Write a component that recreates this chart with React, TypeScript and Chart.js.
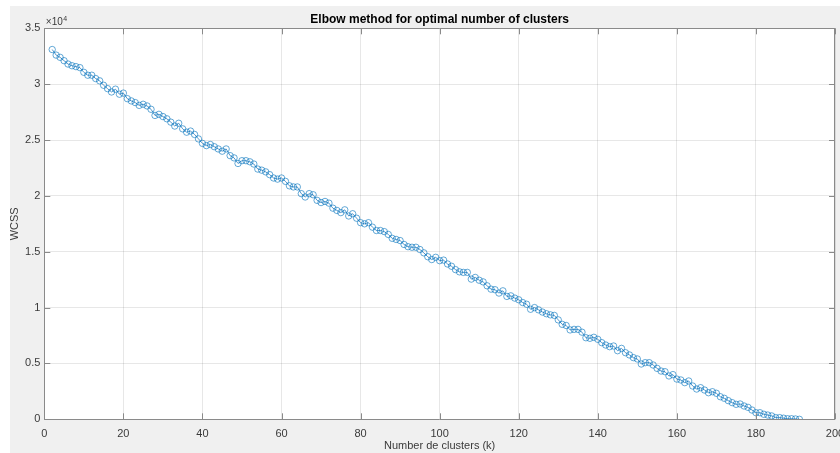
import React, { useEffect, useRef } from "react";
import { Chart, registerables } from "chart.js";

Chart.register(...registerables);

const CHART_TITLE = "Elbow method for optimal number of clusters";
const X_TITLE = "Number de clusters (k)";
const Y_TITLE = "WCSS";
const FIRST_K = 2;

// WCSS values for k = 2 .. 191
const WCSS = [
  33100, 32600, 32400, 32100, 31800, 31650, 31570, 31480, 31060, 30800, 30800, 30500, 30300, 29900, 29600, 29300,
  29550, 29100, 29200, 28700, 28500, 28350, 28100, 28200, 28050, 27750, 27200, 27300, 27100, 26900, 26600, 26250,
  26500, 26000, 25700, 25800, 25500, 25100, 24700, 24500, 24600, 24400, 24200, 24000, 24200, 23600, 23400, 22900,
  23150, 23150, 23050, 22850, 22400, 22300, 22150, 21900, 21600, 21500, 21600, 21300, 20900, 20800, 20800,
  20200, 19900, 20200, 20100, 19600, 19400, 19500, 19350, 18900, 18700, 18500, 18750, 18200, 18400, 18000, 17600,
  17500, 17600, 17200, 16900, 16900, 16800, 16550, 16200, 16100, 16000, 15650, 15450, 15400, 15400, 15200, 14900,
  14550, 14300, 14500, 14200, 14250, 13900, 13700, 13400, 13200, 13150, 13150,
  12550, 12700, 12450, 12300, 11950, 11650, 11600, 11300, 11500, 11000, 11050, 10850, 10700, 10450, 10300, 9850,
  10000, 9800, 9600, 9450, 9350, 9300,
  8900, 8500, 8400, 8000, 8050, 8050, 7800, 7300, 7250, 7340, 7160, 6860, 6650, 6500, 6560, 6140, 6350, 5960, 5760,
  5520, 5400,
  4950, 5070, 5070, 4860, 4560, 4320, 4260, 3880, 4000, 3600, 3520, 3280, 3430, 2980, 2710, 2830, 2620, 2380, 2470,
  2330,
  2020, 1880, 1670, 1490, 1340, 1370, 1190, 1070, 830, 590, 590, 450, 380, 300, 150, 150, 100, 50, 50, 30, 0,
];
const CLUSTERS = WCSS.map((_, i) => FIRST_K + i);

const X_MIN = 0;
const X_MAX = 200;
const X_STEP = 20;
const Y_MIN = 0;
const Y_MAX = 35000;
const Y_STEP = 5000;
const Y_EXPONENT = "4";

const FONT = "'Liberation Sans', Arial, Helvetica, sans-serif";
const TEXT_COLOR = "#3a3a3a";
const AXIS_COLOR = "#8a8a8a";

const framePlugin = {
  id: "matlabFrame",
  beforeDraw(chart: any) {
    const { ctx, chartArea, width, height } = chart;
    ctx.save();
    ctx.fillStyle = "#ffffff";
    ctx.fillRect(0, 0, width, height);
    ctx.fillStyle = "#f0f0f0";
    ctx.fillRect(10, 6, width - 10, height - 6);
    ctx.fillStyle = "#ffffff";
    ctx.fillRect(chartArea.left, chartArea.top, chartArea.right - chartArea.left, chartArea.bottom - chartArea.top);
    ctx.restore();
  },
  afterDraw(chart: any) {
    const { ctx, chartArea } = chart;
    const { left, right, top, bottom } = chartArea;
    const xs = chart.scales.x;
    const ys = chart.scales.y;
    const tl = 6;
    ctx.save();
    ctx.strokeStyle = AXIS_COLOR;
    ctx.lineWidth = 1;
    ctx.beginPath();
    ctx.rect(Math.round(left) + 0.5, Math.round(top) + 0.5, Math.round(right - left) - 1, Math.round(bottom - top));
    ctx.stroke();
    ctx.beginPath();
    xs.ticks.forEach((t: any) => {
      const px = Math.round(xs.getPixelForValue(t.value)) + 0.5;
      ctx.moveTo(px, bottom);
      ctx.lineTo(px, bottom - tl);
      ctx.moveTo(px, top);
      ctx.lineTo(px, top + tl);
    });
    ys.ticks.forEach((t: any) => {
      const py = Math.round(ys.getPixelForValue(t.value)) + 0.5;
      ctx.moveTo(left, py);
      ctx.lineTo(left + tl, py);
      ctx.moveTo(right, py);
      ctx.lineTo(right - tl, py);
    });
    ctx.stroke();
    // exponent label
    ctx.fillStyle = TEXT_COLOR;
    ctx.textBaseline = "alphabetic";
    ctx.textAlign = "left";
    ctx.font = `10px ${FONT}`;
    const base = "\u00d710";
    const bx = left + 1.5;
    const by = top - 3.5;
    ctx.fillText(base, bx, by);
    const w = ctx.measureText(base).width;
    ctx.font = `7px ${FONT}`;
    ctx.fillText(Y_EXPONENT, bx + w + 0.5, by - 4);
    ctx.restore();
  },
};

export default function App() {
  const ref = useRef<HTMLCanvasElement | null>(null);

  useEffect(() => {
    document.body.style.margin = "0";
    const canvas = ref.current;
    if (!canvas) return;
    const chart = new Chart(canvas, {
      type: "line",
      data: {
        datasets: [
          {
            label: Y_TITLE,
            data: CLUSTERS.map((k, i) => ({ x: k, y: WCSS[i] })),
            borderColor: "#2a7fc0",
            borderWidth: 0.8,
            pointStyle: "circle",
            pointRadius: 3.2,
            pointBorderWidth: 1,
            pointBorderColor: "rgba(0,114,189,0.6)",
            pointBackgroundColor: "rgba(0,0,0,0)",
            fill: false,
            tension: 0,
          },
        ],
      },
      options: {
        animation: false,
        responsive: false,
        devicePixelRatio: 1,
        layout: { padding: { top: 0, left: 0, right: 1.5, bottom: 0 } },
        plugins: {
          legend: { display: false },
          tooltip: { enabled: false },
          title: {
            display: true,
            text: CHART_TITLE,
            fullSize: false,
            color: "#000000",
            font: { family: FONT, size: 12, weight: "bold" },
            padding: { top: 12.6, bottom: 1.3 },
          },
        },
        scales: {
          x: {
            type: "linear",
            min: X_MIN,
            max: X_MAX,
            border: { display: false },
            grid: { color: "rgba(38,38,38,0.11)", drawTicks: false, lineWidth: 1 },
            ticks: {
              stepSize: X_STEP,
              padding: 8,
              color: TEXT_COLOR,
              font: { family: FONT, size: 11 },
              maxRotation: 0,
              autoSkip: false,
            },
            title: {
              display: true,
              text: X_TITLE,
              color: TEXT_COLOR,
              font: { family: FONT, size: 11 },
              padding: { top: 0, bottom: 0 },
            },
            afterFit(scale: any) {
              scale.height = 33.7;
              scale.paddingLeft = 0;
              scale.paddingRight = 0;
            },
          },
          y: {
            type: "linear",
            min: Y_MIN,
            max: Y_MAX,
            border: { display: false },
            grid: { color: "rgba(38,38,38,0.11)", drawTicks: false, lineWidth: 1 },
            ticks: {
              stepSize: Y_STEP,
              padding: 4,
              color: TEXT_COLOR,
              font: { family: FONT, size: 11 },
              callback: (v: any) => String(Number(v) / 10000),
            },
            title: {
              display: true,
              text: Y_TITLE,
              color: TEXT_COLOR,
              font: { family: FONT, size: 11 },
              padding: { top: 8.7, bottom: 0 },
            },
            afterFit(scale: any) {
              scale.width = 44.3;
              scale.paddingTop = 0;
              scale.paddingBottom = 0;
            },
          },
        },
      },
      plugins: [framePlugin],
    });
    return () => chart.destroy();
  }, []);

  return (
    <div style={{ position: "absolute", left: 0, top: 0, width: 840, height: 453 }}>
      <canvas ref={ref} width={840} height={453} style={{ display: "block", width: 840, height: 453 }} />
    </div>
  );
}
